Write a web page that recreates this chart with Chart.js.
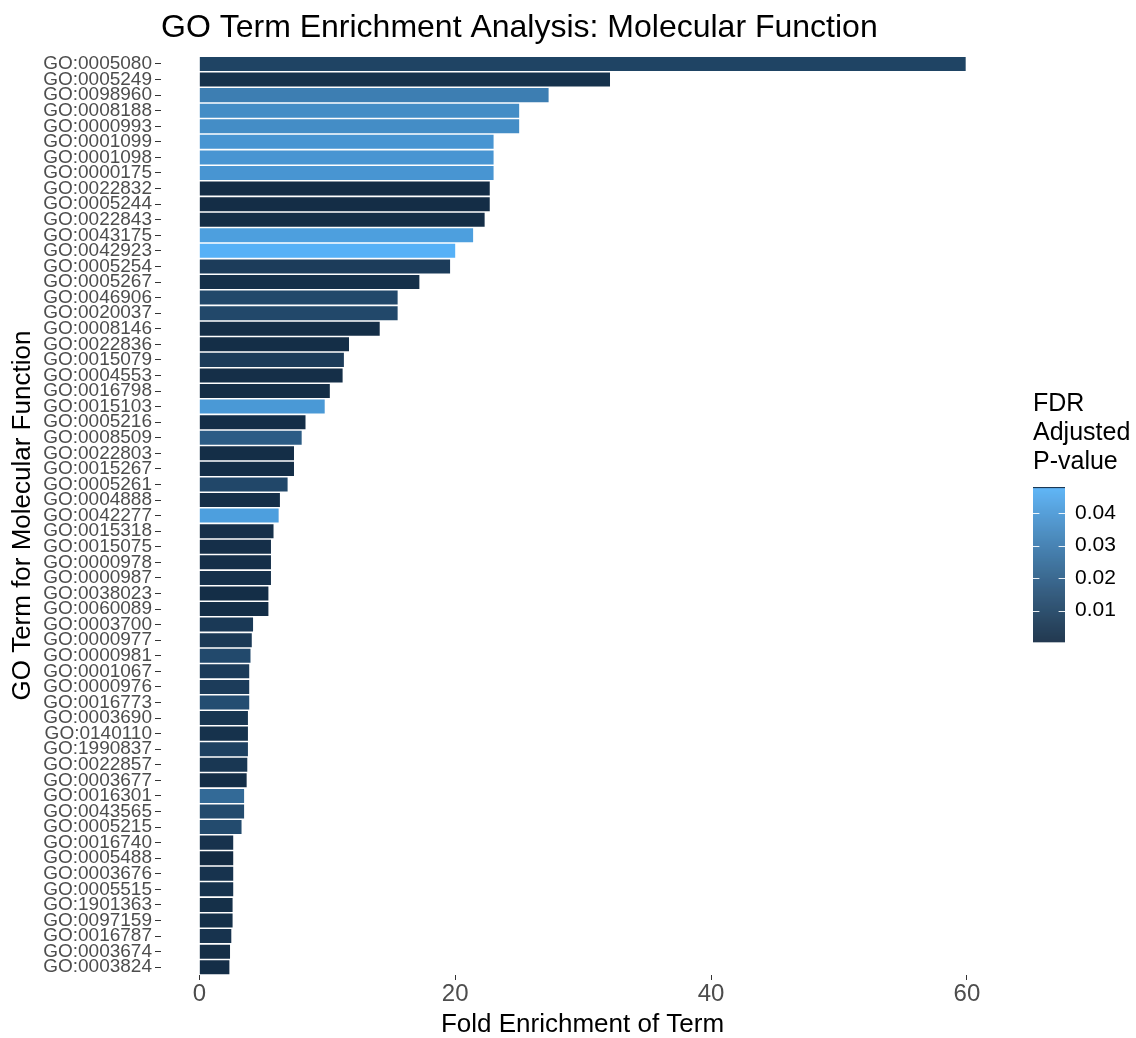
<!DOCTYPE html>
<html>
<head>
<meta charset="utf-8">
<title>GO Term Enrichment Analysis: Molecular Function</title>
<script src="https://cdn.jsdelivr.net/npm/chart.js@4.4.1/dist/chart.umd.min.js"></script>
<style>
  html, body { margin: 0; padding: 0; background: #ffffff; }
  #wrap { width: 1136px; height: 1038px; }
</style>
</head>
<body>
<div id="wrap"><canvas id="chart" width="1136" height="1038"></canvas></div>
<script>
// GO terms, ordered from highest to lowest fold enrichment
const goTerms = [
  'GO:0005080', 'GO:0005249', 'GO:0098960', 'GO:0008188', 'GO:0000993',
  'GO:0001099', 'GO:0001098', 'GO:0000175', 'GO:0022832', 'GO:0005244',
  'GO:0022843', 'GO:0043175', 'GO:0042923', 'GO:0005254', 'GO:0005267',
  'GO:0046906', 'GO:0020037', 'GO:0008146', 'GO:0022836', 'GO:0015079',
  'GO:0004553', 'GO:0016798', 'GO:0015103', 'GO:0005216', 'GO:0008509',
  'GO:0022803', 'GO:0015267', 'GO:0005261', 'GO:0004888', 'GO:0042277',
  'GO:0015318', 'GO:0015075', 'GO:0000978', 'GO:0000987', 'GO:0038023',
  'GO:0060089', 'GO:0003700', 'GO:0000977', 'GO:0000981', 'GO:0001067',
  'GO:0000976', 'GO:0016773', 'GO:0003690', 'GO:0140110', 'GO:1990837',
  'GO:0022857', 'GO:0003677', 'GO:0016301', 'GO:0043565', 'GO:0005215',
  'GO:0016740', 'GO:0005488', 'GO:0003676', 'GO:0005515', 'GO:1901363',
  'GO:0097159', 'GO:0016787', 'GO:0003674', 'GO:0003824'
];

// Fold enrichment of each term
const foldEnrichment = [
  59.9, 32.1, 27.3, 25.0, 25.0,
  23.0, 23.0, 23.0, 22.7, 22.7,
  22.3, 21.4, 20.0, 19.6, 17.2,
  15.5, 15.5, 14.1, 11.7, 11.3,
  11.2, 10.2, 9.8, 8.3, 8.0,
  7.4, 7.4, 6.9, 6.3, 6.2,
  5.8, 5.6, 5.6, 5.6, 5.4,
  5.4, 4.2, 4.1, 4.0, 3.9,
  3.9, 3.9, 3.8, 3.8, 3.8,
  3.75, 3.7, 3.5, 3.5, 3.3,
  2.65, 2.65, 2.65, 2.65, 2.6,
  2.6, 2.5, 2.4, 2.35
];

// FDR adjusted p-value of each term
const fdrValues = [
  0.0100, 0.0030, 0.0310, 0.0360, 0.0360,
  0.0390, 0.0390, 0.0390, 0.0012, 0.0012,
  0.0015, 0.0420, 0.0480, 0.0070, 0.0022,
  0.0118, 0.0118, 0.0015, 0.0015, 0.0072,
  0.0018, 0.0015, 0.0400, 0.0015, 0.0190,
  0.0015, 0.0015, 0.0113, 0.0020, 0.0420,
  0.0024, 0.0020, 0.0020, 0.0026, 0.0015,
  0.0015, 0.0060, 0.0060, 0.0122, 0.0070,
  0.0070, 0.0137, 0.0046, 0.0030, 0.0092,
  0.0052, 0.0015, 0.0240, 0.0128, 0.0128,
  0.0032, 0.0003, 0.0036, 0.0036, 0.0022,
  0.0022, 0.0036, 0.0015, 0.0015
];

const xTickValues = [0, 20, 40, 60];
const legendBreaks = [0.01, 0.02, 0.03, 0.04];
const legendTitleLines = ['FDR', 'Adjusted', 'P-value'];

const FONT = '"Liberation Sans", Arial, Helvetica, sans-serif';
Chart.defaults.font.family = FONT;

// ---- colour scale: gradient from dark to light blue, interpolated in CIE Lab ----
function srgbToLinear(c) {
  c /= 255;
  return c <= 0.04045 ? c / 12.92 : Math.pow((c + 0.055) / 1.055, 2.4);
}
function linearToSrgb(c) {
  const v = c <= 0.0031308 ? 12.92 * c : 1.055 * Math.pow(c, 1 / 2.4) - 0.055;
  return Math.max(0, Math.min(255, Math.round(v * 255)));
}
const WHITE = [0.95047, 1.0, 1.08883];
function hexToLab(hex) {
  const r = srgbToLinear(parseInt(hex.slice(1, 3), 16));
  const g = srgbToLinear(parseInt(hex.slice(3, 5), 16));
  const b = srgbToLinear(parseInt(hex.slice(5, 7), 16));
  const X = 0.4124564 * r + 0.3575761 * g + 0.1804375 * b;
  const Y = 0.2126729 * r + 0.7151522 * g + 0.0721750 * b;
  const Z = 0.0193339 * r + 0.1191920 * g + 0.9503041 * b;
  const f = t => t > 216 / 24389 ? Math.cbrt(t) : (24389 / 27 * t + 16) / 116;
  const fx = f(X / WHITE[0]), fy = f(Y / WHITE[1]), fz = f(Z / WHITE[2]);
  return [116 * fy - 16, 500 * (fx - fy), 200 * (fy - fz)];
}
function labToRgb(L, a, b) {
  const fy = (L + 16) / 116, fx = fy + a / 500, fz = fy - b / 200;
  const inv = t => t * t * t > 216 / 24389 ? t * t * t : (116 * t - 16) / (24389 / 27);
  const X = inv(fx) * WHITE[0], Y = inv(fy) * WHITE[1], Z = inv(fz) * WHITE[2];
  const r = 3.2404542 * X - 1.5371385 * Y - 0.4985314 * Z;
  const g = -0.9692660 * X + 1.8760108 * Y + 0.0415560 * Z;
  const bl = 0.0556434 * X - 0.2040259 * Y + 1.0572252 * Z;
  return 'rgb(' + linearToSrgb(r) + ',' + linearToSrgb(g) + ',' + linearToSrgb(bl) + ')';
}
const LAB_LOW = hexToLab('#132B43');
const LAB_HIGH = hexToLab('#56B1F7');
const fdrMin = Math.min(...fdrValues);
const fdrMax = Math.max(...fdrValues);
function fdrColor(v) {
  const t = Math.max(0, Math.min(1, (v - fdrMin) / (fdrMax - fdrMin)));
  return labToRgb(
    LAB_LOW[0] + (LAB_HIGH[0] - LAB_LOW[0]) * t,
    LAB_LOW[1] + (LAB_HIGH[1] - LAB_LOW[1]) * t,
    LAB_LOW[2] + (LAB_HIGH[2] - LAB_LOW[2]) * t
  );
}

// x range padded by 5% of the data span on both sides
const foldMax = Math.max(...foldEnrichment);
const xMin = -0.05 * foldMax;
const xMax = foldMax * 1.05;

// colour bar legend to the right of the panel
const colorbarLegend = {
  id: 'colorbarLegend',
  afterDraw(chart) {
    const { ctx, chartArea } = chart;
    const mid = (chartArea.top + chartArea.bottom) / 2;
    const x0 = chartArea.right + 29;
    ctx.save();
    ctx.fillStyle = '#000000';
    ctx.font = '25px ' + FONT;
    ctx.textAlign = 'left';
    ctx.textBaseline = 'alphabetic';
    legendTitleLines.forEach((s, i) => ctx.fillText(s, x0, mid - 104.5 + i * 29));

    const barTop = mid - 28.5, barH = 155, barW = 32;
    for (let i = 0; i < barH; i++) {
      const v = fdrMax - (i + 0.5) / barH * (fdrMax - fdrMin);
      ctx.fillStyle = fdrColor(v);
      ctx.fillRect(x0, barTop + i, barW, 1.2);
    }
    ctx.fillStyle = '#132B43';
    ctx.fillRect(x0, barTop, barW, 1);

    ctx.font = '21px ' + FONT;
    ctx.textBaseline = 'middle';
    legendBreaks.forEach(b => {
      const y = barTop + (fdrMax - b) / (fdrMax - fdrMin) * barH;
      const yy = Math.round(y) + 0.5;
      ctx.strokeStyle = 'rgba(255,255,255,0.9)';
      ctx.lineWidth = 1;
      ctx.beginPath();
      ctx.moveTo(x0, yy); ctx.lineTo(x0 + 6.4, yy);
      ctx.moveTo(x0 + barW - 6.4, yy); ctx.lineTo(x0 + barW, yy);
      ctx.stroke();
      ctx.fillStyle = '#000000';
      ctx.fillText(b.toFixed(2), x0 + barW + 10, y);
    });
    ctx.restore();
  }
};

const whiteBackground = {
  id: 'whiteBackground',
  beforeDraw(chart) {
    const { ctx, width, height } = chart;
    ctx.save();
    ctx.fillStyle = '#ffffff';
    ctx.fillRect(0, 0, width, height);
    ctx.restore();
  }
};

new Chart(document.getElementById('chart'), {
  type: 'bar',
  data: {
    labels: goTerms,
    datasets: [{
      data: foldEnrichment,
      backgroundColor: fdrValues.map(fdrColor),
      borderWidth: 0,
      barPercentage: 0.9,
      categoryPercentage: 1.0
    }]
  },
  options: {
    indexAxis: 'y',
    responsive: false,
    animation: false,
    layout: { padding: { left: 0, right: 132, top: 0, bottom: 0 } },
    plugins: {
      legend: { display: false },
      tooltip: { enabled: false },
      title: {
        display: true,
        text: 'GO Term Enrichment Analysis: Molecular Function',
        align: 'start',
        fullSize: false,
        color: '#000000',
        font: { family: FONT, size: 32, weight: 'normal', lineHeight: 1.2 },
        padding: { top: 9, bottom: 8.8 }
      }
    },
    scales: {
      x: {
        type: 'linear',
        min: xMin,
        max: xMax,
        afterBuildTicks: s => { s.ticks = xTickValues.map(v => ({ value: v })); },
        afterFit: s => { s.height = 63; },
        grid: { drawOnChartArea: false, drawTicks: true, tickLength: 5, color: '#333333' },
        border: { display: false },
        ticks: { color: '#4D4D4D', font: { size: 24 }, padding: 0, maxRotation: 0 },
        title: {
          display: true,
          text: 'Fold Enrichment of Term',
          color: '#000000',
          font: { size: 26, lineHeight: 1 },
          padding: { top: 0, bottom: 0 }
        }
      },
      y: {
        type: 'category',
        offset: true,
        afterFit: s => { s.width = 161; },
        grid: { drawOnChartArea: false, drawTicks: true, tickLength: 6, color: '#333333', offset: false },
        border: { display: false },
        ticks: { autoSkip: false, color: '#4D4D4D', font: { size: 19 }, padding: 3 },
        title: {
          display: true,
          text: 'GO Term for Molecular Function',
          color: '#000000',
          font: { size: 26, lineHeight: 1 },
          padding: { top: 10, bottom: 0 }
        }
      }
    }
  },
  plugins: [whiteBackground, colorbarLegend]
});
</script>
</body>
</html>
